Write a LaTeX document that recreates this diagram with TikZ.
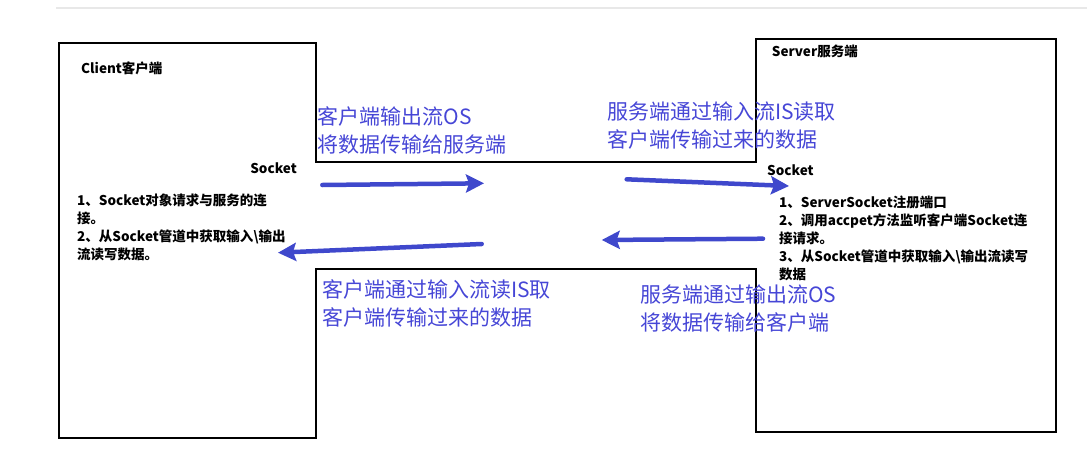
\documentclass[tikz,border=0pt]{standalone}
\usepackage{fontspec}
\usepackage{xcolor}
\usepackage{tikz}
\usetikzlibrary{arrows.meta,positioning}
\newfontfamily\cjk{Noto Sans CJK SC}
\definecolor{sockblue}{HTML}{3F48CC}
\definecolor{socktext}{HTML}{4646D6}
\definecolor{sockrule}{HTML}{E8E8E8}
\tikzset{
  outline/.style={draw=black,line width=2pt,line join=miter},
  topline/.style={draw=sockrule,line width=2pt},
  flowarrow/.style={-{Stealth[length=18pt,width=18pt,inset=3pt]},line width=4.5pt,
                    draw=sockblue,line cap=round},
  bluelabel/.style={font=\cjk\fontsize{21}{28}\selectfont,text=socktext,align=left,
                    anchor=west,inner sep=0pt},
  boxtitle/.style={font=\cjk\bfseries\fontsize{13.5}{16}\selectfont,anchor=west,inner sep=0pt},
  steptext/.style={font=\cjk\bfseries\fontsize{13.5}{18}\selectfont,align=left,
                   anchor=west,inner sep=0pt}
}

\begin{document}
\begin{tikzpicture}[x=1pt,y=-1pt]
    \useasboundingbox (0,0) rectangle (1087,458);
    \draw[topline] (56,8) -- (1087,8);

    % client box, middle band and server box in one outline
    \draw[outline] (59,42.7) -- (315.7,42.7) -- (315.7,162) -- (756,162) -- (756,39.3)
      -- (1056,39.3) -- (1056,431.7) -- (756,431.7) -- (756,268.5) -- (315.7,268.5)
      -- (315.7,438) -- (59,438) -- cycle;

    \node[boxtitle] (client) at (81,68) {Client客户端};
    \node[boxtitle,anchor=east] (csocket) at (297,168) {Socket};
    \node[steptext] (csteps) at (77,227.6) {
      1、Socket对象请求与服务的连\\
      接。\\
      2、从Socket管道中获取输入\textbackslash 输出\\
      流读写数据。
    };

    \node[boxtitle] (server) at (771.7,51.7) {Server服务端};
    \node[boxtitle] (ssocket) at (767,170) {Socket};
    \node[steptext] (ssteps) at (779,238.7) {
      1、ServerSocket注册端口\\
      2、调用accpet方法监听客户端Socket连\\
      接请求。\\
      3、从Socket管道中获取输入\textbackslash 输出流读写\\
      数据
    };

    \node[bluelabel] (cout) at (317.7,130) {客户端输出流OS\\将数据传输给服务端};
    \node[bluelabel] (sin) at (607,126) {服务端通过输入流IS读取\\客户端传输过来的数据};
    \node[bluelabel] (cin) at (322,303) {客户端通过输入流读IS取\\客户端传输过来的数据};
    \node[bluelabel] (sout) at (640,309) {服务端通过输出流OS\\将数据传输给客户端};

    \coordinate (coutA) at (322.3,185);
    \coordinate (coutB) at (484,183.3);
    \coordinate (sinA) at (626.7,179.3);
    \coordinate (sinB) at (789,186);
    \coordinate (soutA) at (763,238.7);
    \coordinate (soutB) at (601.7,240);
    \coordinate (cinA) at (481.7,244);
    \coordinate (cinB) at (278,252.7);

    \draw[flowarrow] (coutA) -- (coutB);
    \draw[flowarrow] (sinA) -- (sinB);
    \draw[flowarrow] (soutA) -- (soutB);
    \draw[flowarrow] (cinA) -- (cinB);
  \end{tikzpicture}
\end{document}
